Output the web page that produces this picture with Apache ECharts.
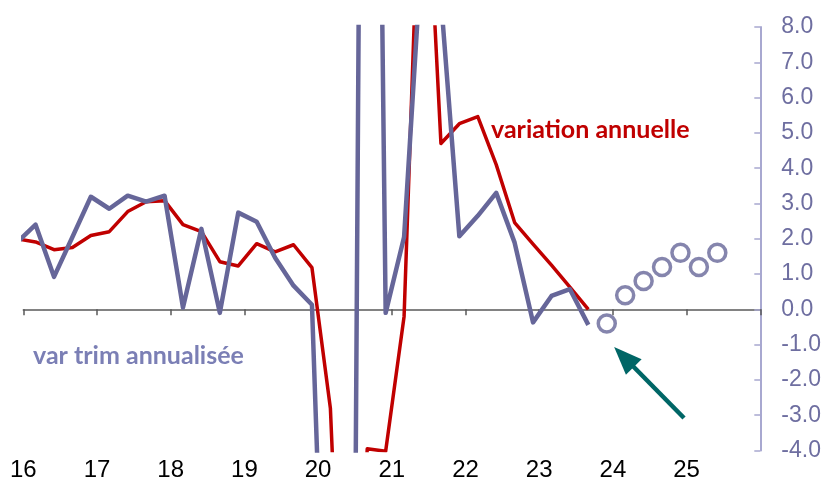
<!DOCTYPE html>
<html>
<head>
<meta charset="utf-8">
<script src="https://cdn.jsdelivr.net/npm/echarts@6/dist/echarts.min.js"></script>
<style>
html,body{margin:0;padding:0;background:#fff;}
#chart{width:825px;height:491px;}
</style>
</head>
<body>
<div id="chart"></div>
<script>
// quarters (date of last-month start of each quarter)
const quarters = ['2015-12','2016-03','2016-06','2016-09','2016-12','2017-03','2017-06','2017-09','2017-12',
  '2018-03','2018-06','2018-09','2018-12','2019-03','2019-06','2019-09','2019-12',
  '2020-03','2020-06','2020-09','2020-12','2021-03','2021-06','2021-09','2021-12',
  '2022-03','2022-06','2022-09','2022-12','2023-03','2023-06','2023-09'];
// variation annuelle (%)
const annual = [2.0,1.91,1.69,1.75,2.09,2.20,2.77,3.05,3.08,
  2.40,2.20,1.35,1.23,1.86,1.63,1.83,1.18,
  -2.8,-15,-3.95,-4.02,-0.2,15,4.7,5.26,
  5.46,4.1,2.46,1.85,1.25,0.63,0.0];
// variation trimestrielle annualisée (%)
const qoqAnn = [1.9,2.40,0.92,2.05,3.19,2.85,3.22,3.05,3.22,
  0.05,2.28,-0.1,2.74,2.48,1.46,0.67,0.13,
  -15,-34,45,-0.1,2.05,10.5,8.8,2.07,
  2.65,3.3,1.89,-0.37,0.38,0.57,-0.44];
// prévisions (cercles)
const fcQuarters = ['2023-12','2024-03','2024-06','2024-09','2024-12','2025-03','2025-06'];
const fcValues = [-0.4,0.4,0.8,1.2,1.6,1.2,1.6];
// axes
const yearTicks = [16,17,18,19,20,21,22,23,24,25];
const yTicks = [-4,-3,-2,-1,0,1,2,3,4,5,6,7,8];
// arrow annotation (data coords; end = centre of the arrow head)
const arrowFrom = [24.965, -3.08];
const arrowTo = [24.15, -1.35];

function toX(q){ const p=q.split('-'); return (+p[0]-2000) + (+p[1]-1)/12; }
const redData = quarters.map((q,i)=>[toX(q), annual[i]]);
const blueData = quarters.map((q,i)=>[toX(q), qoqAnn[i]]);
const fcData = fcQuarters.map((q,i)=>[toX(q), fcValues[i]]);

const BLUE = '#666699';
const RED = '#C00000';

const chart = echarts.init(document.getElementById('chart'), null, {renderer:'canvas'});
chart.setOption({
  animation:false,
  backgroundColor:'#fff',
  grid:{left:23.3, right:64.7, top:27, bottom:40.5, containLabel:false},
  xAxis:[{
    type:'value', min:16, max:26, interval:1,
    axisLine:{show:true, onZero:true, lineStyle:{color:'#5a5a5a', width:1.5}},
    axisTick:{show:true, length:6, lineStyle:{color:'#5a5a5a', width:1.5}},
    axisLabel:{show:false}, splitLine:{show:false}
  },{
    type:'value', min:16, max:26, interval:1, position:'bottom',
    axisLine:{show:false, onZero:false}, axisTick:{show:false}, splitLine:{show:false},
    axisLabel:{show:true, margin:8, fontSize:24, color:'#000', fontFamily:'Liberation Sans, Arial, sans-serif',
      formatter:v=> yearTicks.indexOf(v)>=0 ? String(v) : ''}
  }],
  yAxis:{
    type:'value', position:'right', min:-4, max:8, interval:1,
    axisLine:{show:true, onZero:false, lineStyle:{color:'#A8A8D0', width:2}},
    axisTick:{show:true, inside:true, length:6, lineStyle:{color:'#A8A8D0', width:1.5}},
    axisLabel:{margin:21, fontSize:23, color:'#6E6EA0', fontFamily:'Liberation Sans, Arial, sans-serif',
      formatter:v=>v.toFixed(1)},
    splitLine:{show:false}
  },
  series:[{
    type:'line', name:'variation annuelle', data:redData, showSymbol:false, symbol:'none',
    lineStyle:{color:RED, width:3.5, join:'round'}, clip:true, z:2
  },{
    type:'line', name:'var trim annualisée', data:blueData, showSymbol:false, symbol:'none',
    lineStyle:{color:BLUE, width:4.5, join:'round'}, clip:true, z:3,
    markLine:{silent:true, symbol:['none','triangle'], symbolSize:[22,28],
      lineStyle:{color:'#006666', width:4.5, type:'solid'}, label:{show:false},
      data:[[{coord:arrowFrom},{coord:arrowTo}]]}
  },{
    type:'scatter', name:'prévision', data:fcData, symbol:'circle', symbolSize:17,
    itemStyle:{color:'#fff', borderColor:BLUE, borderWidth:3.5}, z:4
  }],
  graphic:[
    {type:'text', left:491, top:117, style:{text:'variation annuelle', fill:RED,
      font:'bold 25px Lato, "Open Sans", sans-serif'}},
    {type:'text', left:33, top:343, style:{text:'var trim annualisée', fill:'#7B7FB5',
      font:'bold 25px Lato, "Open Sans", sans-serif'}}
  ]
});
</script>
</body>
</html>
